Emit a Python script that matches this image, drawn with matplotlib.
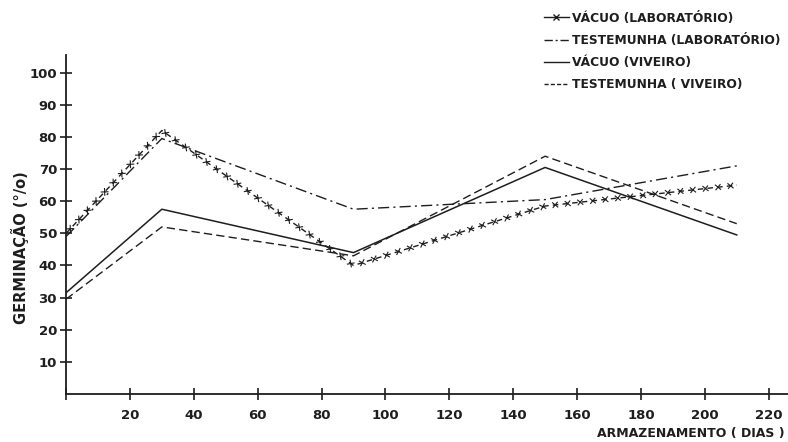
import matplotlib
matplotlib.use("Agg")
from matplotlib import pyplot as plt, patheffects
from matplotlib.lines import Line2D

# dias de armazenamento
dias = [0, 30, 90, 150, 210]

# germinação (%)
vacuo_lab = [50, 82, 40, 58.5, 65]
testemunha_lab = [49, 79.5, 57.5, 60.5, 71]
vacuo_viveiro = [31.5, 57.5, 44, 70.5, 49.5]
testemunha_viveiro = [29.5, 52, 43, 74, 53]

legenda = ["VÁCUO (LABORATÓRIO)", "TESTEMUNHA (LABORATÓRIO)",
           "VÁCUO (VIVEIRO)", "TESTEMUNHA ( VIVEIRO)"]

xticks = list(range(20, 221, 20))
yticks = list(range(10, 101, 10))

cor = "#1e1e1e"

fig = plt.figure(figsize=(7.88, 4.42), dpi=100)
ax = fig.add_axes([0.0838, 0.1086, 0.916, 0.767])

# vacuo (laboratorio): tracejado com x ao longo da linha
ax.plot(dias, vacuo_lab, color=cor, lw=1.0, ls=(0, (4, 3)))
efeitos = [patheffects.TickedStroke(spacing=9, angle=a, length=0.27, linewidth=0.8)
           for a in (45, -135, 135, -45)]
ax.plot(dias, vacuo_lab, color=cor, lw=0, path_effects=efeitos)

ax.plot(dias, testemunha_lab, color=cor, lw=1.0, ls=(0, (8, 3, 1.5, 3)))
ax.plot(dias, vacuo_viveiro, color=cor, lw=1.1, ls="-")
ax.plot(dias, testemunha_viveiro, color=cor, lw=1.0, ls=(0, (6, 3)))

ax.set_xlim(0, 226)
ax.set_ylim(0, 105.5)
ax.set_xticks([0] + xticks)
ax.set_xticklabels([""] + [str(t) for t in xticks])
ax.set_yticks(yticks)
ax.set_yticklabels([str(t) for t in yticks])

for s in ("top", "right"):
    ax.spines[s].set_visible(False)
for s in ("left", "bottom"):
    ax.spines[s].set_linewidth(1.3)
    ax.spines[s].set_color(cor)

ax.tick_params(direction="inout", length=9, width=1.2, colors=cor,
               labelsize=9.5, pad=2)
ax.tick_params(axis="x", pad=6)
for lab in ax.get_xticklabels() + ax.get_yticklabels():
    lab.set_fontweight("semibold")

fig.text(0.026, 0.44, "GERMINAÇÃO (°/o)", rotation=90, ha="center", va="center",
         fontsize=10.5, fontweight="bold", color=cor)
fig.text(0.996, 0.004, "ARMAZENAMENTO ( DIAS )", ha="right", va="bottom",
         fontsize=9, fontweight="bold", color=cor)

handles = [
    Line2D([], [], color=cor, lw=1.0, marker="x", ms=4, mew=1.0),
    Line2D([], [], color=cor, lw=1.0, ls=(0, (6, 2, 1.5, 2))),
    Line2D([], [], color=cor, lw=1.0, ls="-"),
    Line2D([], [], color=cor, lw=1.0, ls=(0, (3, 1.5))),
]
leg = fig.legend(handles, legenda, loc="upper right", bbox_to_anchor=(1.0, 0.99),
                 frameon=False, handlelength=2.0, handletextpad=0.3,
                 labelspacing=0.75, borderaxespad=0.2,
                 prop={"size": 8.8, "weight": "bold"})
for t in leg.get_texts():
    t.set_color(cor)

fig.savefig("out.png", dpi=100, facecolor="white")
